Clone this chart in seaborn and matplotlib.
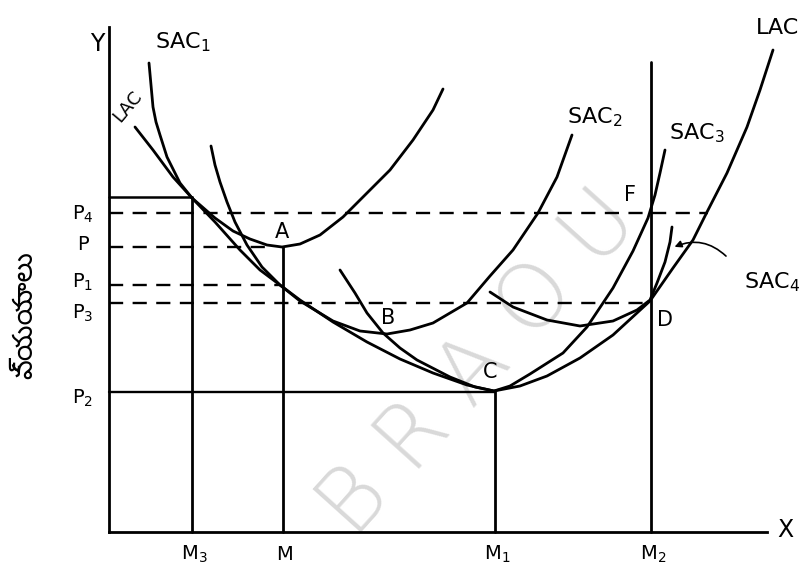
import matplotlib
matplotlib.use("Agg")
import matplotlib.pyplot as plt
import seaborn as sns

# =====================================================
# Données (quantité, coût), origine en O
# =====================================================

lac_q = [26, 44, 64, 83, 106, 131, 151, 171, 191, 224, 258, 291, 324, 358, 385,
         411, 438, 471, 504, 541, 564, 584, 598, 618, 638, 651, 664]
lac_c = [405, 382, 355, 334, 310, 282, 262, 247, 232, 210, 190, 173, 159, 147, 141,
         146, 156, 174, 197, 231, 264, 292, 320, 359, 405, 442, 482]

sac1_q = [40, 42, 44, 47, 51, 58, 71, 83, 106, 124, 141, 158, 173, 191, 211, 234, 258, 281, 304, 324, 334]
sac1_c = [469, 447, 425, 410, 397, 375, 349, 334, 314, 301, 293, 287, 285, 288, 297, 315, 339, 362, 392, 422, 443]

sac2_q = [102, 106, 111, 118, 126, 138, 153, 171, 191, 224, 251, 278, 301, 324, 358, 381, 404, 429, 448, 463]
sac2_c = [386, 367, 350, 330, 310, 287, 265, 247, 231, 211, 201, 198, 202, 209, 229, 256, 282, 319, 355, 397]

sac3_q = [231, 246, 258, 274, 291, 308, 341, 366, 385, 401, 421, 454, 478, 504, 524, 539, 546, 551, 556]
sac3_c = [262, 239, 219, 199, 184, 172, 155, 145, 141, 146, 158, 179, 205, 244, 281, 314, 337, 359, 382]

sac4_q = [381, 404, 438, 471, 504, 528, 541, 548, 556, 561, 563]
sac4_c = [240, 225, 212, 206, 211, 222, 232, 249, 270, 290, 305]

# niveaux de prix et quantités
price_names = ["P$_4$", "P", "P$_1$", "P$_3$", "P$_2$"]
price_levels = [319, 285, 247, 229, 140]
price_label_pos = [318, 287, 250, 219, 134]
price_ends = [599, 165, 171, 541, 386]
price_dashed = [True, True, True, True, False]
top_level = 335

qty_names = ["M$_3$", "M", "M$_1$", "M$_2$"]
qty_levels = [83, 174, 386, 542]
qty_tops = [335, 285, 141, 470]

y_title = "వ్యయాలు"

# =====================================================
# Figure
# =====================================================

sns.set_style("white")
plt.rcParams["font.family"] = ["DejaVu Sans", "Noto Sans"]
plt.rcParams["text.color"] = "black"

fig = plt.figure(figsize=(8.12, 5.77), dpi=100)
ax = fig.add_axes([0, 0, 1, 1])
ax.set_xlim(-109, 703)
ax.set_ylim(-45, 532)

lw = 2.0

# filigrane
ax.text(370, 168, "B R A O U", rotation=48, fontsize=64, color="#d9d9d9",
        fontweight="light", ha="center", va="center", zorder=0)

# courbes
for q, c in [(lac_q, lac_c), (sac1_q, sac1_c), (sac2_q, sac2_c),
             (sac3_q, sac3_c), (sac4_q, sac4_c)]:
    sns.lineplot(x=q, y=c, sort=False, estimator=None, color="black",
                 linewidth=lw, ax=ax, zorder=3,
                 solid_joinstyle="round", solid_capstyle="round")

# lignes de prix
for lvl, end, dashed in zip(price_levels, price_ends, price_dashed):
    ax.plot([0, end], [lvl, lvl], color="black", linewidth=1.7,
            linestyle=(0, (6, 4)) if dashed else "-", zorder=2)
ax.plot([0, qty_levels[0]], [top_level, top_level], color="black", linewidth=1.8)

# lignes verticales
for q, top in zip(qty_levels, qty_tops):
    ax.plot([q, q], [0, top], color="black", linewidth=lw, zorder=2)

# axes
sns.despine(ax=ax, top=True, right=True)
ax.spines["left"].set_position(("data", 0))
ax.spines["bottom"].set_position(("data", 0))
ax.spines["left"].set_bounds(0, 505)
ax.spines["bottom"].set_bounds(0, 658)
ax.spines["left"].set_linewidth(2)
ax.spines["bottom"].set_linewidth(2)
ax.spines["left"].set_color("black")
ax.spines["bottom"].set_color("black")
ax.set_xticks([])
ax.set_yticks([])

# =====================================================
# Textes
# =====================================================

fs = 14
for name, pos in zip(price_names, price_label_pos):
    ax.text(-26, pos, name, fontsize=fs, ha="center", va="center")
for name, q in zip(qty_names, qty_levels):
    ax.text(q + 2, -22, name, fontsize=fs, ha="center", va="center")

ax.text(-12, 488, "Y", fontsize=fs + 3, ha="center", va="center")
ax.text(676, 2, "X", fontsize=fs + 3, ha="center", va="center")

ax.text(74, 490, "SAC$_1$", fontsize=fs + 2, ha="center", va="center")
ax.text(486, 415, "SAC$_2$", fontsize=fs + 2, ha="center", va="center")
ax.text(588, 399, "SAC$_3$", fontsize=fs + 2, ha="center", va="center")
ax.text(663, 250, "SAC$_4$", fontsize=fs + 2, ha="center", va="center")
ax.text(19, 426, "LAC", fontsize=fs - 1, rotation=50, ha="center", va="center")
ax.text(669, 504, "LAC", fontsize=fs + 2, ha="center", va="center")

for lab, q, c in [("A", 173, 300), ("B", 279, 214), ("C", 381, 160),
                  ("D", 556, 212), ("F", 521, 337)]:
    ax.text(q, c, lab, fontsize=fs + 1, ha="center", va="center")

ax.annotate("", xy=(563, 284), xytext=(619, 274),
            arrowprops=dict(arrowstyle="-|>", color="black", lw=1.2,
                            connectionstyle="arc3,rad=0.35"))

ax.text(-84, 217, y_title, rotation=90, fontsize=20,
        family=["Noto Sans Telugu", "Lohit Telugu", "Gautami", "DejaVu Sans"],
        ha="center", va="center")

fig.savefig("out.png", dpi=100)
